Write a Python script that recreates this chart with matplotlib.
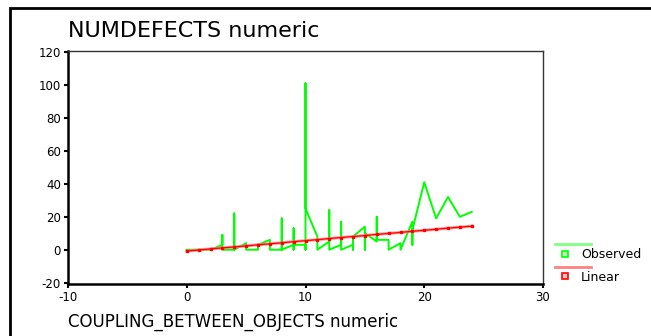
import matplotlib
matplotlib.use("Agg")
import matplotlib.pyplot as plt
from matplotlib.lines import Line2D
from matplotlib.patches import Rectangle

plt.rcParams['font.family'] = ['DejaVu Sans']
plt.rcParams['axes.unicode_minus'] = False

# Observed values (SPSS curve fit: points joined in x order)
obs_x = [0, 1, 2, 3, 3, 3, 4, 4, 4, 5, 5, 6, 6, 7, 7, 8, 8, 8, 9, 9, 9, 9,
         10, 10, 10, 10, 11, 11, 12, 12, 12, 13, 13, 13, 14, 14, 14, 15, 15,
         15, 16, 16, 16, 17, 17, 18, 18, 19, 19, 19, 20, 21, 22, 23, 24]
obs_y = [0, 0, 0, 3, 9, 0, 0, 22, 0, 4, 0, 0, 3, 6, 0, 0, 19, 0, 3, 13, 0, 3,
         3, 0, 101, 25, 8, 0, 5, 24, 0, 3, 17, 0, 3, 0, 8, 14, 0,
         10, 5, 20, 6, 6, 0, 4, 0, 17, 3, 12, 41, 19, 32, 20, 23]

# Linear fit values
lin_x = [0, 1, 2, 3, 4, 5, 6, 7, 8, 9, 10, 11, 12, 13, 14, 15, 16, 17, 18,
         19, 20, 21, 22, 23, 24]
lin_y = [-0.8, -0.2, 0.5, 1.1, 1.7, 2.3, 3.0, 3.6, 4.2, 4.9, 5.5, 6.1, 6.8,
         7.4, 8.0, 8.6, 9.3, 9.9, 10.5, 11.2, 11.8, 12.4, 13.1, 13.7, 14.3]

x_ticks = [-10, 0, 10, 20, 30]
y_ticks = [-20, 0, 20, 40, 60, 80, 100, 120]

W, H = 651, 336
fig = plt.figure(figsize=(W / 100, H / 100), dpi=100)
ax = fig.add_axes([68 / W, 1 - 284 / H, (543 - 68) / W, (284 - 51) / H])

green = '#00ff00'
red = '#ff0000'

ax.plot(obs_x, obs_y, color=green, lw=1.4)
ax.plot(lin_x, lin_y, color='#ff8080', lw=2.2, alpha=0.8)
ax.plot(lin_x, lin_y, color=red, lw=0.9, marker='s', ms=1.8, mec=red, mfc=red)

ax.set_xlim(-10, 30)
ax.set_ylim(-20.8, 120.6)
ax.set_xticks(x_ticks)
ax.set_yticks(y_ticks)
ax.tick_params(direction='out', length=3, width=1.5, labelsize=8.5, pad=2)

for s in ['left', 'bottom']:
    ax.spines[s].set_linewidth(1.8)
    ax.spines[s].set_color('black')
for s in ['top', 'right']:
    ax.spines[s].set_linewidth(1.0)
    ax.spines[s].set_color('#333333')

# title and axis label, left aligned as in SPSS
fig.text(68 / W, 1 - 31 / H, 'NUMDEFECTS numeric', fontsize=16,
         va='center', ha='left')
fig.text(68 / W, 1 - 322 / H, 'COUPLING_BETWEEN_OBJECTS numeric',
         fontsize=12, va='center', ha='left')

# legend
fig.add_artist(Line2D([555 / W, 591 / W], [1 - 244 / H, 1 - 244 / H],
                      color='#80ff80', lw=2))
fig.add_artist(Line2D([565 / W], [1 - 253.5 / H], marker='s', ms=4,
                      mfc='#c0ffc0', mec=green, mew=1.2))
fig.text(581 / W, 1 - 255 / H, 'Observed', fontsize=9, va='center', ha='left')
fig.add_artist(Line2D([555 / W, 591 / W], [1 - 267 / H, 1 - 267 / H],
                      color='#ff8080', lw=2))
fig.add_artist(Line2D([565 / W], [1 - 275.5 / H], marker='s', ms=4,
                      mfc='#ffc0c0', mec=red, mew=1.2))
fig.text(581 / W, 1 - 277.5 / H, 'Linear', fontsize=9, va='center', ha='left')

# outer frame (cut off on the right and bottom)
fig.add_artist(Rectangle((10 / W, -0.1), 1.1, 1 - 7.5 / H + 0.1,
                         transform=fig.transFigure, fill=False,
                         edgecolor='black', lw=2))

plt.savefig('out.png', dpi=100)
